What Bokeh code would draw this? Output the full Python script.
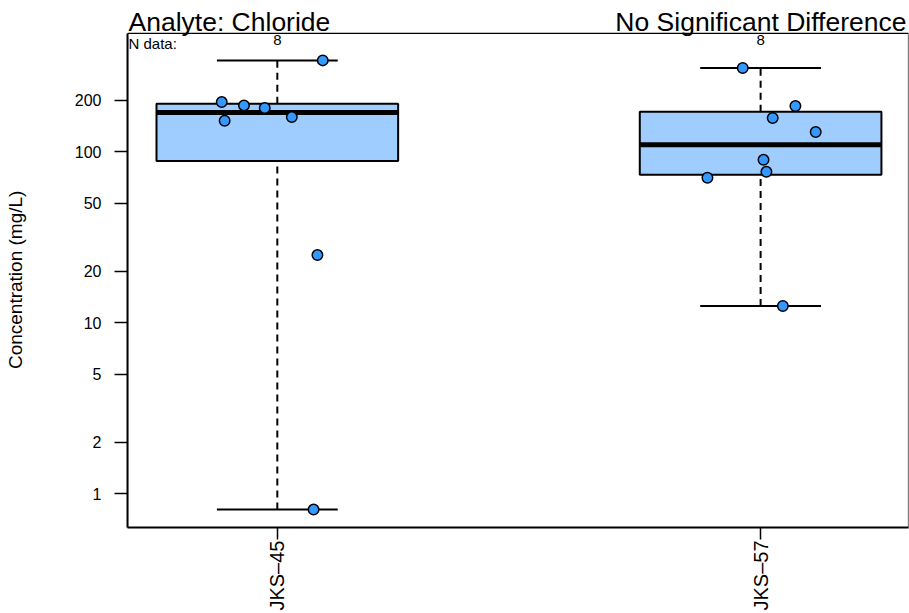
import math
from bokeh.plotting import figure
from bokeh.models import (Range1d, FixedTicker, PrintfTickFormatter, Label,
                          ColumnDataSource)
from bokeh.embed import file_html
from bokeh.resources import INLINE
import numpy as np

# ---- data ----
groups = ["JKS\u201345", "JKS\u201357"]
positions = [1, 2]
jks45 = [194.5, 186.0, 179.5, 151.4, 159.0, 24.8, 341.0, 0.807]
jitter45 = [-0.115, -0.069, -0.026, -0.109, 0.030, 0.083, 0.094, 0.075]
jks57 = [308.0, 184.4, 156.9, 130.0, 89.4, 76.1, 70.2, 12.5]
jitter57 = [-0.037, 0.072, 0.025, 0.114, 0.006, 0.012, -0.110, 0.046]
yticks = [1, 2, 5, 10, 20, 50, 100, 200]
title_left = "Analyte: Chloride"
title_right = "No Significant Difference"
ylabel = "Concentration (mg/L)"

series = [jks45, jks57]
jitters = [jitter45, jitter57]

FONT = "Liberation Sans"
BOX_FILL = "#A0CDFF"
PT_FILL = "#3399FF"


def fivenum(v):
    s = np.sort(np.asarray(v, dtype=float))
    n = len(s)
    n4 = np.floor((n + 3) / 2) / 2
    d = np.array([1, n4, (n + 1) / 2, n + 1 - n4, n]) - 1
    return 0.5 * (s[np.floor(d).astype(int)] + s[np.ceil(d).astype(int)])


stats = [fivenum(v) for v in series]

# axis limits of the plotting box; the frame extends above it to hold the titles
x0, x1 = 0.69, 2.306
y0, y_box = 0.634, 490.7
y_frame_top = 763.5

p = figure(width=909, height=613, y_axis_type="log",
           x_range=Range1d(x0, x1), y_range=Range1d(y0, y_frame_top),
           output_backend="svg", toolbar_location=None,
           min_border_left=127, min_border_right=1,
           min_border_top=0, min_border_bottom=84)
p.title.visible = False
p.xgrid.visible = False
p.ygrid.visible = False
p.outline_line_color = None
p.background_fill_color = "white"
p.border_fill_color = "white"

# y axis
p.yaxis.ticker = FixedTicker(ticks=yticks)
p.yaxis.formatter = PrintfTickFormatter(format="%d")
p.yaxis.bounds = (y0, y_box)
p.yaxis.minor_tick_line_color = None
p.yaxis.major_tick_out = 13
p.yaxis.major_tick_in = 0
p.yaxis.major_tick_line_width = 1.5
p.yaxis.major_label_standoff = 13
p.yaxis.major_label_text_font = FONT
p.yaxis.major_label_text_font_size = "16px"
p.yaxis.major_label_text_color = "black"
p.yaxis.axis_line_width = 2
# trailing no-break spaces centre the visible label on the plotting box
p.yaxis.axis_label = ylabel + "\u00a0" * 6
p.yaxis.axis_label_text_font = FONT
p.yaxis.axis_label_text_font_size = "19px"
p.yaxis.axis_label_text_font_style = "normal"
p.yaxis.axis_label_text_color = "black"
p.yaxis.axis_label_standoff = 46

# x axis
p.xaxis.ticker = FixedTicker(ticks=positions)
p.xaxis.major_label_overrides = {pos: g for pos, g in zip(positions, groups)}
p.xaxis.major_label_orientation = math.pi / 2
p.xaxis.minor_tick_line_color = None
p.xaxis.major_tick_out = 12
p.xaxis.major_tick_in = 0
p.xaxis.major_tick_line_width = 1.5
p.xaxis.major_label_standoff = 1
p.xaxis.major_label_text_font = FONT
p.xaxis.major_label_text_font_size = "20px"
p.xaxis.major_label_text_color = "black"
p.xaxis.axis_line_width = 2

# plotting-box outline
p.quad(left=[x0], right=[x1], bottom=[y0], top=[y_box], fill_color=None,
       line_color="black", line_width=1.2)

# boxes
half = 0.25
cap = 0.125
box_src = ColumnDataSource(dict(
    x=positions,
    left=[x - half for x in positions],
    right=[x + half for x in positions],
    capl=[x - cap for x in positions],
    capr=[x + cap for x in positions],
    lo=[s[0] for s in stats],
    q1=[s[1] for s in stats],
    med=[s[2] for s in stats],
    q3=[s[3] for s in stats],
    hi=[s[4] for s in stats],
))

p.segment(x0="x", x1="x", y0="q3", y1="hi", source=box_src,
          line_color="black", line_width=2, line_dash="7 5")
p.segment(x0="x", x1="x", y0="lo", y1="q1", source=box_src,
          line_color="black", line_width=2, line_dash="7 5")
p.segment(x0="capl", x1="capr", y0="hi", y1="hi", source=box_src,
          line_color="black", line_width=2)
p.segment(x0="capl", x1="capr", y0="lo", y1="lo", source=box_src,
          line_color="black", line_width=2)
p.quad(left="left", right="right", bottom="q1", top="q3", source=box_src,
       fill_color=BOX_FILL, line_color="black", line_width=2)
p.segment(x0="left", x1="right", y0="med", y1="med", source=box_src,
          line_color="black", line_width=5)

# points
px, py = [], []
for pos, vals, jit in zip(positions, series, jitters):
    px += [pos + j for j in jit]
    py += list(vals)
p.scatter(x=px, y=py, size=10.5, fill_color=PT_FILL, line_color="black",
          line_width=1.5)

# texts
p.add_layout(Label(x=x0, y=y_box, text=title_left, text_font=FONT,
                   text_font_size="26.5px", text_baseline="bottom",
                   x_offset=1, y_offset=-4, text_color="black"))
p.add_layout(Label(x=x1, y=y_box, text=title_right, text_font=FONT,
                   text_font_size="26.5px", text_baseline="bottom",
                   text_align="right", x_offset=-2, y_offset=-4,
                   text_color="black"))
p.add_layout(Label(x=x0, y=y_box, text="N data:", text_font=FONT,
                   text_font_size="15px", text_baseline="top",
                   x_offset=1, y_offset=-2, text_color="black"))
for pos, vals in zip(positions, series):
    p.add_layout(Label(x=pos, y=y_box, text=str(len(vals)), text_font=FONT,
                       text_font_size="15px", text_baseline="top",
                       text_align="center", y_offset=-2, text_color="black"))

open("out.html", "w").write(file_html(p, INLINE))
